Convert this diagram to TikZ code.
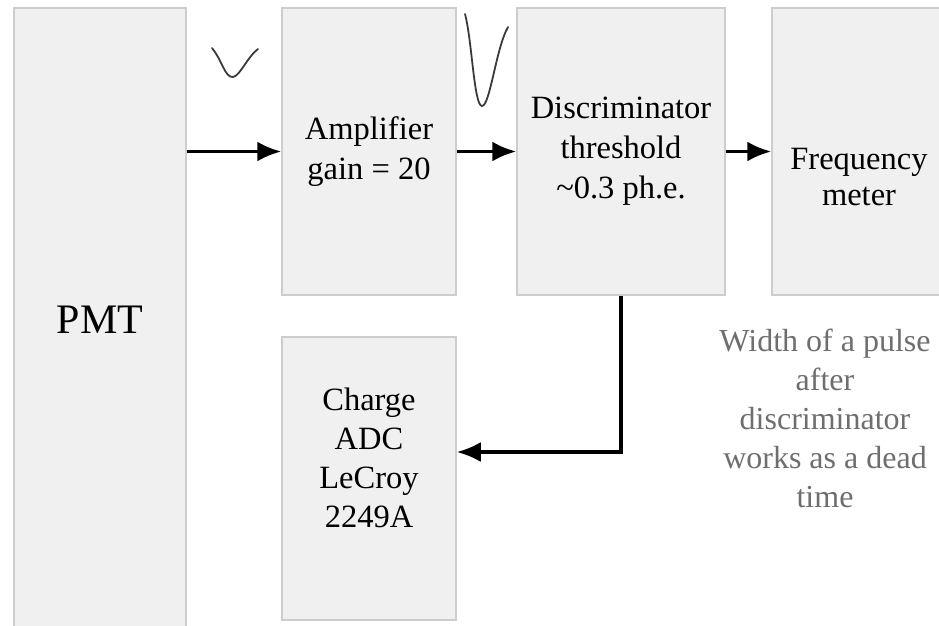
\documentclass[tikz,border=0pt]{standalone}
\usepackage{fontspec}
\setmainfont{Liberation Serif}
\usepackage{xcolor}
\usetikzlibrary{arrows.meta, positioning, calc}

\definecolor{boxfill}{HTML}{F0F0F0}
\definecolor{boxline}{HTML}{CDCDCD}
\definecolor{notegray}{HTML}{6E6E6E}
\definecolor{pulsegray}{HTML}{3A3A3A}

\begin{document}
\begin{tikzpicture}[
  x=1pt, y=-1pt,
  block/.style={draw=boxline, line width=1.5pt, fill=boxfill, inner sep=0pt, align=center,
    text=black, font=\fontsize{32.5}{40}\selectfont},
  edge/.style={-{Latex[length=24pt,width=20pt]}, line width=3.4pt, black},
  pulse/.style={pulsegray, line width=1.8pt, line cap=round}
]
\useasboundingbox (0,0) rectangle (939,625);

\node[block, minimum width=172pt, minimum height=624pt, font=\fontsize{42}{48}\selectfont] (pmt) at (100,320) {PMT};
\node[block, minimum width=174pt, minimum height=287pt] (amp) at (369,151.5) {Amplifier\\gain = 20};
\node[block, minimum width=208pt, minimum height=287pt] (disc) at (621,151.5) {Discriminator\\threshold\\\textasciitilde0.3 ph.e.};
\node[block, minimum width=174pt, minimum height=287pt,
  label={[yshift=-26pt, align=center, font=\fontsize{32.5}{36}\selectfont]center:Frequency\\meter}] (freq) at (859,151.5) {};
\node[block, minimum width=174pt, minimum height=283pt,
  label={[yshift=21pt, align=center, font=\fontsize{32.5}{39}\selectfont]center:Charge\\ADC\\LeCroy\\2249A}] (adc) at (369,478.5) {};

% dead time remark
\node[text=notegray, align=center, font=\fontsize{32}{39}\selectfont] (note) at (825,418)
  {Width of a pulse\\after\\discriminator\\works as a dead\\time};

% pulse sketches
\draw[pulse] (212,48) .. controls (222,60) and (225,78) .. (233,77) .. controls (240,76) and (248,56) .. (258,49);
\draw[pulse] (465,14) .. controls (472,40) and (474,106) .. (482,106) .. controls (490,106) and (496,48) .. (508,27);

% signal chain
\coordinate (split) at (disc.south |- 0,452);
\draw[edge] (pmt.east |- amp.west) -- (amp.west);
\draw[edge] (amp) -- (disc);
\draw[edge] (disc) -- (freq);
\draw[edge] (disc.south) -- (split) -- (adc.east |- split);
\end{tikzpicture}
\end{document}
